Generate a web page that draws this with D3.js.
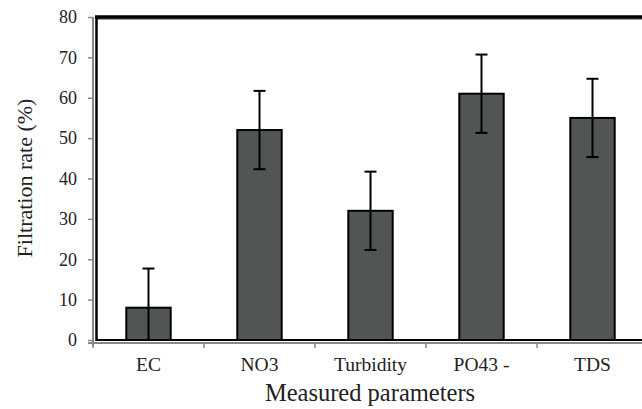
<!DOCTYPE html>
<html>
<head>
<meta charset="utf-8">
<script src="https://cdn.jsdelivr.net/npm/d3@7"></script>
<style>
  body { margin: 0; background: #fff; }
  svg text { font-family: 'Liberation Serif', 'Times New Roman', Times, 'DejaVu Serif', serif !important; fill: #222; }
</style>
</head>
<body>
<svg id="chart"></svg>
<script>
let categories = ['EC', 'NO3', 'Turbidity', 'PO43 -', 'TDS']
let values = [8, 52, 32, 61, 55]
let errors = [9.7, 9.7, 9.7, 9.7, 9.7]
let yTicks = [0, 10, 20, 30, 40, 50, 60, 70, 80]

let w = 642, h = 409
let serif = "'Liberation Serif', 'Times New Roman', Times, 'DejaVu Serif', serif"
let svg = d3.select('#chart').attr('width', w).attr('height', h).attr('font-family', serif)

let x = d3.scaleBand().domain(categories).range([93, 648]).paddingInner(0.6).paddingOuter(0.3)
let y = d3.scaleLinear().domain([0, 80]).range([340, 17])

let data = categories.map((c, i) => ({c: c, v: values[i], e: errors[i]}))

// grey axes
let yAxis = d3.axisLeft(y).tickValues(yTicks).tickSize(5).tickPadding(11)
let gy = svg.append('g').attr('transform', 'translate(93,0)').call(yAxis)
  .attr('font-family', serif)
gy.select('.domain').attr('stroke', '#888').attr('stroke-width', 2).attr('d', 'M0,17V346')
gy.selectAll('.tick line').attr('stroke', '#888').attr('stroke-width', 1.5)
gy.selectAll('.tick text').attr('font-size', 18).attr('fill', '#222')

let bounds = d3.range(categories.length + 1).map(i => 93 + i * x.step())
svg.append('line').attr('x1', 88).attr('x2', w).attr('y1', 343).attr('y2', 343)
  .attr('stroke', '#888').attr('stroke-width', 2)
svg.selectAll('.xtick').data(bounds).enter().append('line')
  .attr('x1', d => d).attr('x2', d => d).attr('y1', 343).attr('y2', 348)
  .attr('stroke', '#888').attr('stroke-width', 1.5)

svg.selectAll('.xlab').data(categories).enter().append('text')
  .attr('x', d => x(d) + x.bandwidth() / 2).attr('y', 371)
  .attr('text-anchor', 'middle').attr('font-size', 19.5).text(d => d)

// frame
svg.append('line').attr('x1', 96).attr('x2', w).attr('y1', 19).attr('y2', 19)
  .attr('stroke', '#999').attr('stroke-width', 2)
svg.append('line').attr('x1', 95).attr('x2', w).attr('y1', 17).attr('y2', 17)
  .attr('stroke', '#000').attr('stroke-width', 3.5)
svg.append('line').attr('x1', 96.5).attr('x2', 96.5).attr('y1', 16).attr('y2', 341)
  .attr('stroke', '#000').attr('stroke-width', 2.5)
svg.append('line').attr('x1', 96).attr('x2', w).attr('y1', 340).attr('y2', 340)
  .attr('stroke', '#000').attr('stroke-width', 2)

// bars
svg.selectAll('.bar').data(data).enter().append('rect')
  .attr('x', d => x(d.c)).attr('y', d => y(d.v))
  .attr('width', x.bandwidth()).attr('height', d => y(0) - y(d.v))
  .attr('fill', '#515555').attr('stroke', '#000').attr('stroke-width', 2)

// error bars
let eb = svg.selectAll('.err').data(data).enter().append('g')
eb.append('line')
  .attr('x1', d => x(d.c) + x.bandwidth() / 2).attr('x2', d => x(d.c) + x.bandwidth() / 2)
  .attr('y1', d => y(Math.max(0, d.v - d.e))).attr('y2', d => y(d.v + d.e))
  .attr('stroke', '#000').attr('stroke-width', 2)
eb.append('line')
  .attr('x1', d => x(d.c) + x.bandwidth() / 2 - 6).attr('x2', d => x(d.c) + x.bandwidth() / 2 + 6)
  .attr('y1', d => y(d.v + d.e)).attr('y2', d => y(d.v + d.e))
  .attr('stroke', '#000').attr('stroke-width', 2)
eb.filter(d => d.v - d.e > 0).append('line')
  .attr('x1', d => x(d.c) + x.bandwidth() / 2 - 6).attr('x2', d => x(d.c) + x.bandwidth() / 2 + 6)
  .attr('y1', d => y(d.v - d.e)).attr('y2', d => y(d.v - d.e))
  .attr('stroke', '#000').attr('stroke-width', 2)

// titles
svg.append('text').attr('transform', 'translate(32,178) rotate(-90)')
  .attr('text-anchor', 'middle').attr('font-size', 22).text('Filtration rate (%)')
svg.append('text').attr('x', 370).attr('y', 401)
  .attr('text-anchor', 'middle').attr('font-size', 24.5).text('Measured parameters')
</script>
</body>
</html>
